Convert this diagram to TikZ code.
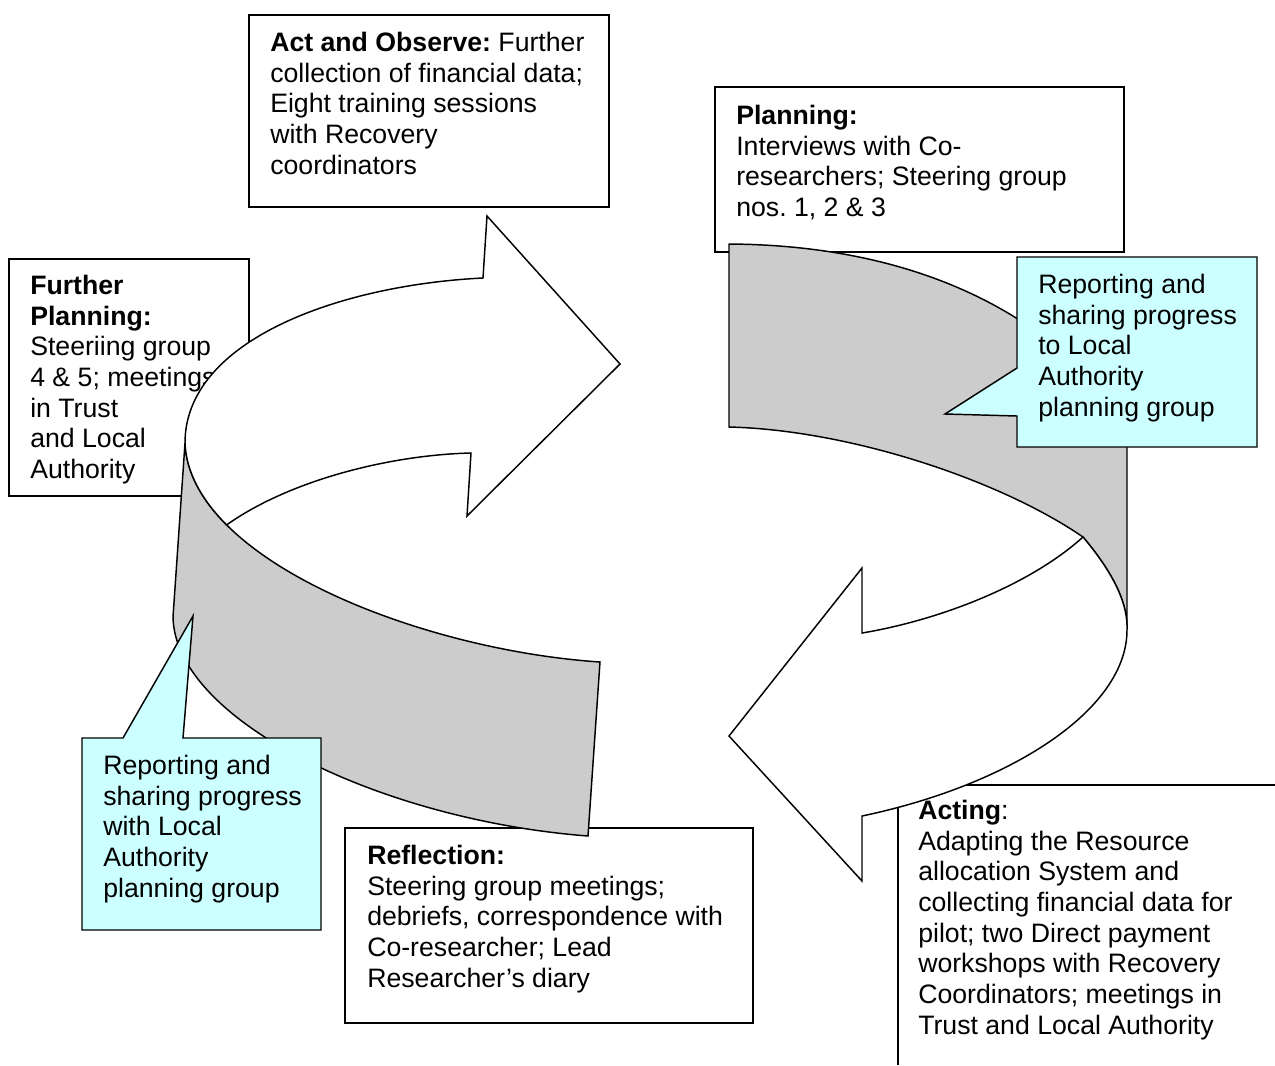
\documentclass[tikz,border=0pt]{standalone}
\usepackage{fontspec}
\setmainfont{Liberation Sans}
\frenchspacing
\definecolor{bandgray}{HTML}{CCCCCC}
\definecolor{callcol}{HTML}{CCFFFF}
\begin{document}
\begin{tikzpicture}[x=0.75pt,y=-0.75pt,
  boxst/.style={draw=black, line width=1.1pt, fill=white},
  callst/.style={draw=black, line width=1.1pt, fill=callcol},
  bandst/.style={draw=black, line width=1.1pt, fill=bandgray},
  facest/.style={draw=black, line width=1.1pt, fill=white},
  txt/.style={anchor=north west, inner sep=0pt, align=left, font=\fontsize{20}{23}\selectfont}]
\useasboundingbox (0,0) rectangle (1275,1065);

% text boxes (behind the arrows)
\path[boxst] (249,15) rectangle (609,207);
\node[txt] (ao) at (270,32) {\textbf{Act and Observe:} Further\\collection of financial data;\\Eight training sessions\\with Recovery\\coordinators};

\path[boxst] (715,87) rectangle (1124,252);
\node[txt] (pl) at (736,105) {\textbf{Planning:}\\Interviews with Co-\\researchers; Steering group\\nos. 1, 2 \& 3};

\path[boxst] (9,259) rectangle (249,496);
\node[txt] (fp) at (30,275) {\textbf{Further}\\\textbf{Planning:}\\Steeriing group\\4 \& 5; meetings\\in Trust\\and Local\\Authority};

\path[boxst] (345,828) rectangle (753,1023);
\node[txt] (rf) at (367,845) {\textbf{Reflection:}\\Steering group meetings;\\debriefs, correspondence with\\Co-researcher; Lead\\Researcher’s diary};

\fill[white] (898,785) rectangle (1275,1065);
\draw[line width=1.1pt] (1275,785) -- (898,785) -- (898,1065);
\node[txt] (ac) at (918,800) {\textbf{Acting}:\\Adapting the Resource\\allocation System and\\collecting financial data for\\pilot; two Direct payment\\workshops with Recovery\\Coordinators; meetings in\\Trust and Local Authority};

% left curved arrow (band + face)
\path[bandst] (185,443) .. controls (190,560) and (420,650) .. (600,662)
  -- (588,836) .. controls (380,820) and (175,720) .. (173,617) -- cycle;
\path[facest] (185,443) .. controls (186.25,472.25) and (201.56,499.81) .. (226.64,524.89)
  .. controls (290,480) and (390,455) .. (471,453) -- (467,516) -- (620,364)
  -- (487,216) -- (483,278) .. controls (340,285) and (185,340) .. (185,443) -- cycle;

% right curved arrow (band + face)
\path[bandst] (729,244) .. controls (880,245) and (1030,290) .. (1127,420) -- (1127,630)
  .. controls (1128,605) and (1115,575) .. (1083,537)
  .. controls (1000,480) and (850,430) .. (729,427) -- cycle;
\path[facest] (1083,537) .. controls (1115,575) and (1128,605) .. (1127,630)
  .. controls (1127,710) and (1010,785) .. (862,816) -- (862,881) -- (729,736)
  -- (862,568) -- (862,633) .. controls (940,620) and (1030,585) .. (1083,537) -- cycle;

% callouts
\path[callst] (1017,257) -- (1257,257) -- (1257,447) -- (1017,447) -- (1017,416)
  -- (945,414) -- (1017,368) -- cycle;
\node[txt] (cr) at (1038,274) {Reporting and\\sharing progress\\to Local\\Authority\\planning group};

\path[callst] (82,738) -- (123,738) -- (193,616) -- (183,738) -- (321,738)
  -- (321,930) -- (82,930) -- cycle;
\node[txt] (cl) at (103,755) {Reporting and\\sharing progress\\with Local\\Authority\\planning group};
\end{tikzpicture}
\end{document}
